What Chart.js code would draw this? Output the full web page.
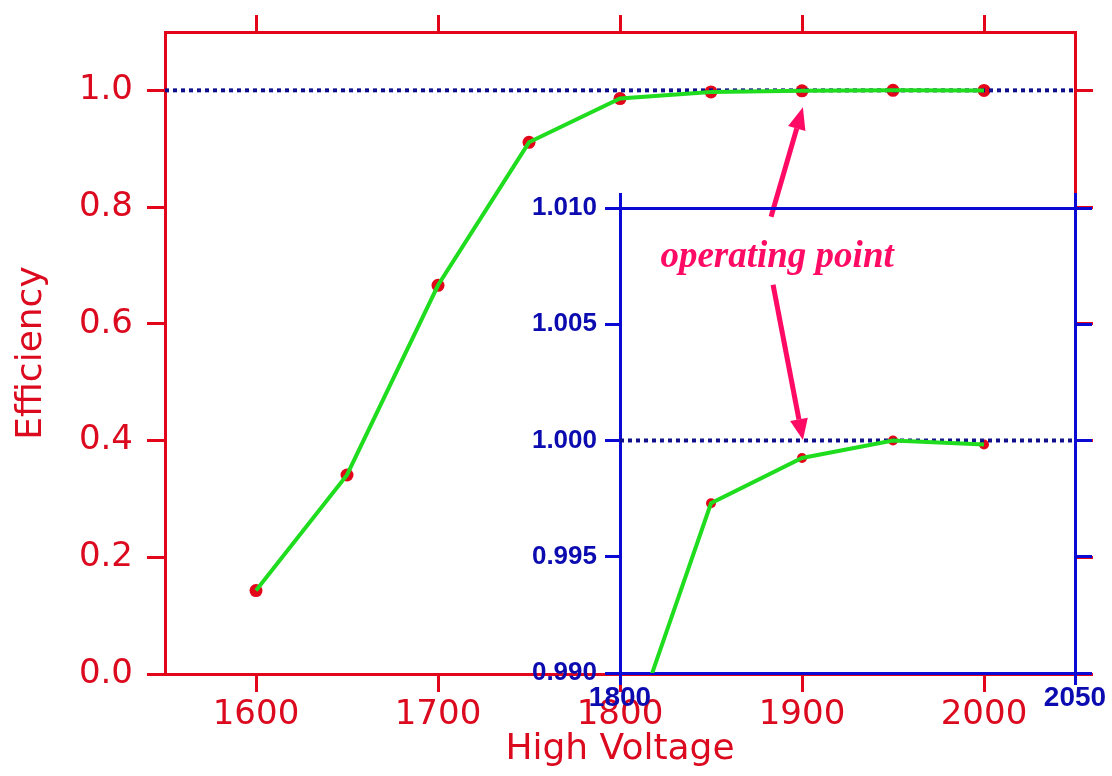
<!DOCTYPE html>
<html>
<head>
<meta charset="utf-8">
<script src="https://cdn.jsdelivr.net/npm/chart.js@4.4.1/dist/chart.umd.min.js"></script>
<style>
  html, body { margin: 0; padding: 0; background: #ffffff; }
  #wrap { position: relative; width: 1112px; height: 776px; overflow: hidden; }
  #wrap canvas { position: absolute; left: 0; top: 0; }
</style>
</head>
<body>
<div id="wrap">
  <canvas id="mainChart" width="1112" height="776"></canvas>
  <canvas id="zoomChart" width="1112" height="776"></canvas>
</div>
<script>
// Detector efficiency versus high voltage
const voltages   = [1600, 1650, 1700, 1750, 1800, 1850, 1900, 1950, 2000];
const efficiency = [0.143, 0.341, 0.666, 0.911, 0.986, 0.9973, 0.99925, 1.0000, 0.99983];

// Axis ranges and tick labels
const mainXRange  = [1550, 2050];
const mainYRange  = [0, 1.1];
const mainXTicks  = [1600, 1700, 1800, 1900, 2000];
const mainYTicks  = [0.0, 0.2, 0.4, 0.6, 0.8, 1.0];
const zoomXRange  = [1800, 2050];
const zoomYRange  = [0.990, 1.010];
const zoomXTicks  = [1800, 2050];
const zoomYTicks  = [0.990, 0.995, 1.000, 1.005, 1.010];
const fullEfficiency = 1.0;

// "operating point" callout (data coordinates)
const calloutText = 'operating point';
const calloutAnchor = { x: 1886.3, y: 0.6976 };                 // main axes
const upperPointer  = { from: { x: 1883.0, y: 0.7835 }, to: { x: 1900.5, y: 0.971 } };   // main axes
const lowerPointer  = { from: { x: 1884.1, y: 1.0067 }, to: { x: 1900.5, y: 1.00002 } }; // zoom axes

const RED = '#e3061a';
const LABEL_RED = '#dc0a1e';
const BLUE = '#0a0ad4';
const LABEL_BLUE = '#0b0bb0';
const DOT_BLUE = '#10108f';
const GREEN = '#1fdc1f';
const PINK = '#ff0a64';

const xy = (xs, ys) => xs.map((x, i) => ({ x, y: ys[i] }));
const fixedTicks = list => scale => { scale.ticks = list.map(v => ({ value: v })); };
const sized = (dim, px) => scale => {
  scale[dim] = px;
  scale.paddingLeft = 0; scale.paddingRight = 0;
  scale.paddingTop = 0; scale.paddingBottom = 0;
};

function axis({ position, range, ticks, color, tickLen, size, labels, labelFont, labelColor, padding, fmt, title }) {
  const horizontal = position === 'top' || position === 'bottom';
  return {
    type: 'linear',
    position,
    min: range[0],
    max: range[1],
    afterBuildTicks: fixedTicks(ticks),
    afterFit: sized(horizontal ? 'height' : 'width', size),
    grid: { display: true, drawOnChartArea: false, drawTicks: true, tickLength: tickLen, color, lineWidth: 3 },
    border: { display: true, color, width: 3 },
    ticks: labels ? {
      display: true, color: labelColor, font: labelFont, padding,
      autoSkip: false, maxRotation: 0, minRotation: 0,
      callback: fmt
    } : { display: false },
    title: title || { display: false }
  };
}

function drawArrow(ctx, x1, y1, x2, y2, color, width, headLen, headHalf) {
  const ang = Math.atan2(y2 - y1, x2 - x1);
  const bx = x2 - headLen * Math.cos(ang);
  const by = y2 - headLen * Math.sin(ang);
  ctx.save();
  ctx.strokeStyle = color;
  ctx.lineWidth = width;
  ctx.lineCap = 'butt';
  ctx.beginPath();
  ctx.moveTo(x1, y1);
  ctx.lineTo(bx, by);
  ctx.stroke();
  ctx.fillStyle = color;
  ctx.beginPath();
  ctx.moveTo(x2, y2);
  ctx.lineTo(bx + headHalf * Math.sin(ang), by - headHalf * Math.cos(ang));
  ctx.lineTo(bx - headHalf * Math.sin(ang), by + headHalf * Math.cos(ang));
  ctx.closePath();
  ctx.fill();
  ctx.restore();
}

const px = (chart, p) => ({ x: chart.scales.x.getPixelForValue(p.x), y: chart.scales.y.getPixelForValue(p.y) });

const calloutPlugin = {
  id: 'callout',
  afterDraw(chart) {
    const ctx = chart.ctx;
    const a = px(chart, calloutAnchor);
    ctx.save();
    ctx.font = 'italic bold 37px "Liberation Serif", "DejaVu Serif", serif';
    ctx.fillStyle = PINK;
    ctx.textAlign = 'center';
    ctx.textBaseline = 'alphabetic';
    ctx.fillText(calloutText, a.x, a.y);
    ctx.restore();
    const f = px(chart, upperPointer.from), t = px(chart, upperPointer.to);
    drawArrow(ctx, f.x, f.y, t.x, t.y, PINK, 5, 22, 9);
  }
};

const zoomPointerPlugin = {
  id: 'zoomPointer',
  afterDraw(chart) {
    const f = px(chart, lowerPointer.from), t = px(chart, lowerPointer.to);
    drawArrow(chart.ctx, f.x, f.y, t.x, t.y, PINK, 5, 21, 9);
  }
};

const tickFontMain = { family: '"DejaVu Sans", sans-serif', size: 34 };
const titleFontMain = { family: '"DejaVu Sans", sans-serif', size: 36 };

// Full-range efficiency curve
new Chart(document.getElementById('mainChart'), {
  type: 'scatter',
  data: {
    datasets: [
      { data: xy(voltages, efficiency), showLine: true, borderColor: GREEN, borderWidth: 4,
        pointRadius: 0, fill: false, tension: 0 },
      { data: xy(mainXRange, [fullEfficiency, fullEfficiency]), showLine: true, borderColor: DOT_BLUE,
        borderWidth: 4, borderDash: [4, 4], pointRadius: 0, fill: false },
      { data: xy(voltages, efficiency), showLine: false, pointRadius: 6.5, pointBackgroundColor: RED,
        pointBorderWidth: 0, pointBorderColor: RED }
    ]
  },
  options: {
    responsive: false,
    animation: false,
    events: [],
    layout: { padding: 0 },
    plugins: { legend: { display: false }, tooltip: { enabled: false } },
    scales: {
      x: axis({ position: 'bottom', range: mainXRange, ticks: mainXTicks, color: RED, tickLen: 18, size: 102,
        labels: true, labelFont: tickFontMain, labelColor: LABEL_RED, padding: 3, fmt: v => String(v),
        title: { display: true, text: 'High Voltage', color: LABEL_RED, font: titleFontMain, padding: { top: 0, bottom: 5 } } }),
      xTop: axis({ position: 'top', range: mainXRange, ticks: mainXTicks, color: RED, tickLen: 17, size: 32, labels: false }),
      y: axis({ position: 'left', range: mainYRange, ticks: mainYTicks, color: RED, tickLen: 18, size: 165,
        labels: true, labelFont: tickFontMain, labelColor: LABEL_RED, padding: 14, fmt: v => v.toFixed(1),
        title: { display: true, text: 'Efficiency', color: LABEL_RED, font: titleFontMain, padding: { top: 10, bottom: 0 } } }),
      yRight: axis({ position: 'right', range: mainYRange, ticks: mainYTicks, color: RED, tickLen: 18, size: 37, labels: false })
    }
  },
  plugins: [calloutPlugin]
});

const tickFontZoom = { family: '"Liberation Sans", Arial, sans-serif', size: 26, weight: 'bold' };
const tickFontZoomX = { family: '"Liberation Sans", Arial, sans-serif', size: 28, weight: 'bold' };

// Magnified view around full efficiency
new Chart(document.getElementById('zoomChart'), {
  type: 'scatter',
  data: {
    datasets: [
      { data: xy(voltages, efficiency), showLine: true, borderColor: GREEN, borderWidth: 4,
        pointRadius: 0, fill: false, tension: 0, clip: 0 },
      { data: xy(zoomXRange, [fullEfficiency, fullEfficiency]), showLine: true, borderColor: DOT_BLUE,
        borderWidth: 4, borderDash: [4, 4], pointRadius: 0, fill: false, clip: 0 },
      { data: xy(voltages, efficiency), showLine: false, pointRadius: 5, pointBackgroundColor: RED,
        pointBorderWidth: 0, pointBorderColor: RED, clip: 0 }
    ]
  },
  options: {
    responsive: false,
    animation: false,
    events: [],
    layout: { padding: { left: 520, top: 170, right: 0, bottom: 43 } },
    plugins: { legend: { display: false }, tooltip: { enabled: false } },
    scales: {
      x: axis({ position: 'bottom', range: zoomXRange, ticks: zoomXTicks, color: BLUE, tickLen: 12, size: 60,
        labels: true, labelFont: tickFontZoomX, labelColor: LABEL_BLUE, padding: -4, fmt: v => String(v) }),
      xTop: axis({ position: 'top', range: zoomXRange, ticks: zoomXTicks, color: BLUE, tickLen: 15, size: 38, labels: false }),
      y: axis({ position: 'left', range: zoomYRange, ticks: zoomYTicks, color: BLUE, tickLen: 15, size: 100,
        labels: true, labelFont: tickFontZoom, labelColor: LABEL_BLUE, padding: 8, fmt: v => v.toFixed(3) }),
      yRight: axis({ position: 'right', range: zoomYRange, ticks: zoomYTicks, color: BLUE, tickLen: 17, size: 37, labels: false })
    }
  },
  plugins: [zoomPointerPlugin]
});
</script>
</body>
</html>
